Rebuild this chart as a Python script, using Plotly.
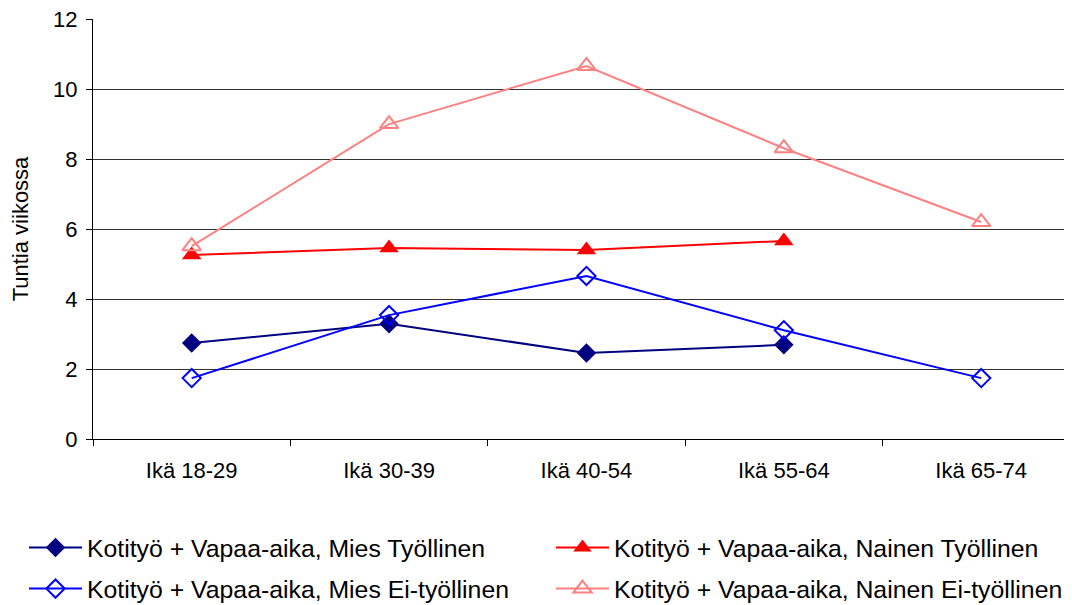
import plotly.graph_objects as go

categories = ["Ikä 18-29", "Ikä 30-39", "Ikä 40-54", "Ikä 55-64", "Ikä 65-74"]
mies_tyollinen = [2.74, 3.29, 2.46, 2.69, None]
nainen_tyollinen = [5.26, 5.46, 5.40, 5.66, None]
mies_ei = [1.74, 3.54, 4.66, 3.11, 1.74]
nainen_ei = [5.51, 9.00, 10.66, 8.31, 6.20]
y_ticks = [0, 2, 4, 6, 8, 10, 12]

W, H = 1064, 597  # page body has an 8px margin

series = [
    ("Kotityö + Vapaa-aika, Mies Työllinen", mies_tyollinen, "#000080", "diamond", 15, "legend"),
    ("Kotityö + Vapaa-aika, Nainen Työllinen", nainen_tyollinen, "#FF0000", "triangle-up", 17, "legend2"),
    ("Kotityö + Vapaa-aika, Mies Ei-työllinen", mies_ei, "#0000FF", "diamond-open", 14, "legend3"),
    ("Kotityö + Vapaa-aika, Nainen Ei-työllinen", nainen_ei, "#FF8080", "triangle-up-open", 16, "legend4"),
]

fig = go.Figure()
for name, vals, color, sym, size, leg in series:
    fig.add_trace(go.Scatter(
        x=categories, y=vals, name=name, mode="lines+markers",
        line=dict(color=color, width=2),
        marker=dict(symbol=sym, size=size, color=color,
                    line=dict(color=color, width=2 if "open" in sym else 0)),
        legend=leg,
    ))

font = "Liberation Sans, Arial, sans-serif"
leg_common = dict(
    orientation="h", xref="container", yref="container",
    xanchor="left", yanchor="middle",
    font=dict(family=font, size=24.8, color="black"),
    itemwidth=53, bgcolor="rgba(0,0,0,0)",
)
col1, col2 = 16 / W, 543 / W
row1, row2 = 1 - 540 / H, 1 - 581 / H
fig.update_layout(
    width=W, height=H,
    margin=dict(l=85, r=0, t=11, b=166, autoexpand=False),
    paper_bgcolor="white", plot_bgcolor="white",
    font=dict(family=font, size=22, color="black"),
    showlegend=True,
    legend=dict(leg_common, x=col1, y=row1),
    legend2=dict(leg_common, x=col2, y=row1),
    legend3=dict(leg_common, x=col1, y=row2),
    legend4=dict(leg_common, x=col2, y=row2),
    xaxis=dict(
        type="category", range=[-0.5, 4.46],
        showgrid=False, showline=True, linecolor="black", linewidth=1,
        ticks="outside", tickson="boundaries", ticklen=6, tickcolor="black",
        tickfont=dict(size=22), zeroline=False, automargin=False,
        ticklabelstandoff=12,
    ),
    yaxis=dict(
        range=[0, 12.002], tickvals=y_ticks,
        showgrid=True, gridcolor="#333333", gridwidth=1,
        showline=True, linecolor="black", linewidth=1,
        ticks="outside", ticklen=6, tickcolor="black",
        tickfont=dict(size=22), zeroline=False, automargin=False,
        ticklabelstandoff=4, ticklabeloverflow="allow",
        title=dict(text="Tuntia viikossa", font=dict(size=22), standoff=22),
    ),
)

fig.write_html("out.html")
